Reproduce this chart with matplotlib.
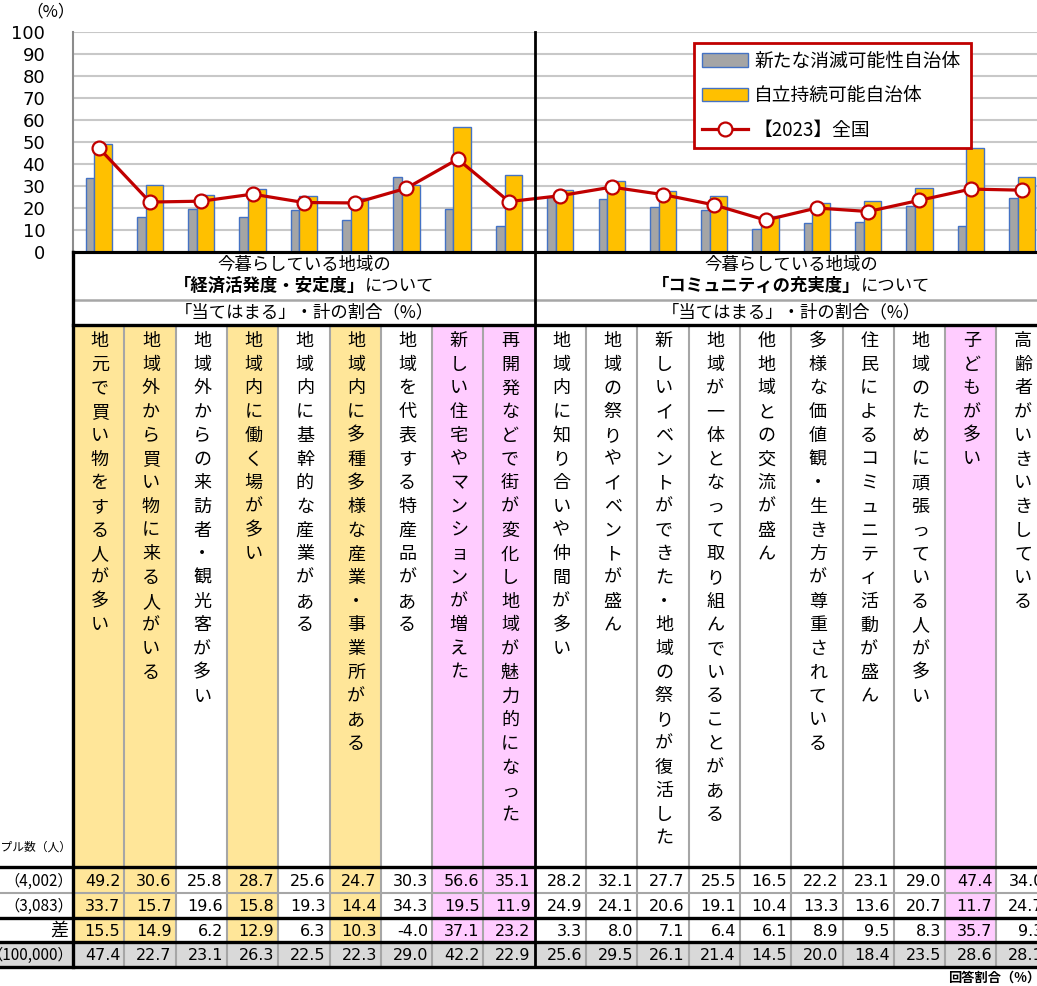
import numpy as np
import matplotlib
matplotlib.use("Agg")
import matplotlib.pyplot as plt
from matplotlib.patches import Rectangle

plt.rcParams['font.family'] = ['Noto Sans CJK JP', 'DejaVu Sans']

# column items (vertical labels)
items = [
    "地元で買い物をする人が多い",
    "地域外から買い物に来る人がいる",
    "地域外からの来訪者・観光客が多い",
    "地域内に働く場が多い",
    "地域内に基幹的な産業がある",
    "地域内に多種多様な産業・事業所がある",
    "地域を代表する特産品がある",
    "新しい住宅やマンションが増えた",
    "再開発などで街が変化し地域が魅力的になった",
    "地域内に知り合いや仲間が多い",
    "地域の祭りやイベントが盛ん",
    "新しいイベントができた・地域の祭りが復活した",
    "地域が一体となって取り組んでいることがある",
    "他地域との交流が盛ん",
    "多様な価値観・生き方が尊重されている",
    "住民によるコミュニティ活動が盛ん",
    "地域のために頑張っている人が多い",
    "子どもが多い",
    "高齢者がいきいきしている",
]
jiritsu = [49.2, 30.6, 25.8, 28.7, 25.6, 24.7, 30.3, 56.6, 35.1,
           28.2, 32.1, 27.7, 25.5, 16.5, 22.2, 23.1, 29.0, 47.4, 34.0]
shometsu = [33.7, 15.7, 19.6, 15.8, 19.3, 14.4, 34.3, 19.5, 11.9,
            24.9, 24.1, 20.6, 19.1, 10.4, 13.3, 13.6, 20.7, 11.7, 24.7]
sa = [15.5, 14.9, 6.2, 12.9, 6.3, 10.3, -4.0, 37.1, 23.2,
      3.3, 8.0, 7.1, 6.4, 6.1, 8.9, 9.5, 8.3, 35.7, 9.3]
zenkoku = [47.4, 22.7, 23.1, 26.3, 22.5, 22.3, 29.0, 42.2, 22.9,
           25.6, 29.5, 26.1, 21.4, 14.5, 20.0, 18.4, 23.5, 28.6, 28.1]

row_labels = ["（4,002）", "（3,083）", "差", "（100,000）"]
legend_labels = ["新たな消滅可能性自治体", "自立持続可能自治体", "【2023】全国"]
group_head = "今暮らしている地域の"
group_bold = ["「経済活発度・安定度」", "「コミュニティの充実度」"]
group_tail = "について"
sub_head = "「当てはまる」・計の割合（%）"

orange_cols = [0, 1, 3, 5]
pink_cols = [7, 8, 17]

W, H = 1037, 986
fig = plt.figure(figsize=(W / 100, H / 100), dpi=100)
fig.patch.set_facecolor('white')

X0 = 73       # left edge of table / chart
CW = 51.3     # column width in px
n = len(items)
Y_TOP, Y_BOT = 32, 252

# ---- chart ----
ax = fig.add_axes([X0 / W, 1 - Y_BOT / H, n * CW / W, (Y_BOT - Y_TOP) / H])
x = np.arange(n)
b1 = ax.bar(x - 0.17, shometsu, width=0.17, color='#A5A5A5', edgecolor='#4472C4',
            lw=1, zorder=2, label=legend_labels[0])
b2 = ax.bar(x + 0.085, jiritsu, width=0.34, color='#FFC000', edgecolor='#4472C4',
            lw=1, zorder=2, label=legend_labels[1])
ln, = ax.plot(x, zenkoku, color='#C00000', lw=2.3, marker='o', ms=10,
              mfc='white', mec='#C00000', mew=1.6, zorder=4, label=legend_labels[2])
ax.set_xlim(-0.5, n - 0.5)
ax.set_ylim(0, 100)
ax.set_yticks(range(0, 101, 10))
ax.set_xticks([])
ax.yaxis.grid(True, color='#C8C8C8', lw=1.5)
ax.set_axisbelow(True)
for s in ['top', 'right']:
    ax.spines[s].set_visible(False)
ax.spines['left'].set_color('#8C8C8C')
ax.spines['left'].set_linewidth(1.5)
ax.spines['bottom'].set_color('black')
ax.spines['bottom'].set_linewidth(2.2)
ax.tick_params(axis='y', length=0, pad=20, labelsize=13)
for t in ax.get_yticklabels():
    t.set_fontfamily('DejaVu Sans')

leg = ax.legend(handles=[b1, b2, ln], labels=legend_labels,
                loc='upper left', mode='expand',
                bbox_to_anchor=(694 / W, 1 - 44 / H, 277 / W, 0.001),
                bbox_transform=fig.transFigure, borderaxespad=0,
                fontsize=13.5, handlelength=2.5, handletextpad=0.3,
                labelspacing=0.72, borderpad=0.4, fancybox=False,
                framealpha=1, edgecolor='#C00000')
leg.get_frame().set_linewidth(2)

# ---- table (pixel coordinates) ----
tab = fig.add_axes([0, 0, 1, 1], zorder=5)
tab.set_xlim(0, W)
tab.set_ylim(H, 0)
tab.axis('off')
tab.patch.set_visible(False)

Y_SUB = 300
Y_COL = 325
Y_R = [867, 893, 918, 942, 967]
XR = X0 + n * CW + 20

def col_left(i):
    return X0 + i * CW

# column backgrounds
for i in range(n):
    if i in orange_cols:
        c = '#FFE699'
    elif i in pink_cols:
        c = '#FFCCFF'
    else:
        continue
    tab.add_patch(Rectangle((col_left(i), Y_COL), CW, Y_R[3] - Y_COL,
                            color=c, lw=0, zorder=0))
tab.add_patch(Rectangle((0, Y_R[3]), XR, Y_R[4] - Y_R[3], color='#D9D9D9', lw=0, zorder=0))

# grid lines
for i in range(1, n):
    if i == 9:
        continue
    tab.plot([col_left(i)] * 2, [Y_COL, Y_R[4]], color='#A6A6A6', lw=1.5, zorder=1)
tab.plot([X0, XR], [Y_SUB, Y_SUB], color='#A6A6A6', lw=1.8, zorder=1)
tab.plot([0, XR], [Y_R[1], Y_R[1]], color='#A6A6A6', lw=1.5, zorder=1)
tab.plot([X0, XR], [Y_BOT, Y_BOT], color='black', lw=2.2, zorder=2)
tab.plot([X0, XR], [Y_COL, Y_COL], color='black', lw=2.4, zorder=2)
for yy in [Y_R[0], Y_R[2], Y_R[3], Y_R[4]]:
    tab.plot([0, XR], [yy, yy], color='black', lw=2.4, zorder=2)
tab.plot([X0, X0], [Y_BOT, Y_R[4]], color='black', lw=2.4, zorder=2)
tab.plot([col_left(9)] * 2, [Y_TOP, Y_R[4]], color='black', lw=2, zorder=2)

# group headers
r = fig.canvas.get_renderer()
for g, (c0, c1) in enumerate([(0, 9), (9, n)]):
    cx = (col_left(c0) + col_left(c1)) / 2
    tab.text(cx, 265, group_head, ha='center', va='center', fontsize=12.5)
    t1 = tab.text(0, 286, group_bold[g], ha='left', va='center', fontsize=12.5, fontweight='bold')
    t2 = tab.text(0, 286, group_tail, ha='left', va='center', fontsize=12.5)
    w1 = t1.get_window_extent(r).width
    w2 = t2.get_window_extent(r).width
    start = cx - (w1 + w2) / 2
    t1.set_x(start)
    t2.set_x(start + w1)
    tab.text(cx, 312, sub_head, ha='center', va='center', fontsize=12.5)

# vertical item labels
for i, lab in enumerate(items):
    cx = col_left(i) + CW / 2 + 1
    for j, ch in enumerate(lab):
        tab.text(cx, 341 + j * 23.7, ch, ha='center', va='center', fontsize=13)

# values
rows = [jiritsu, shometsu, sa, zenkoku]
for k, vals in enumerate(rows):
    yc = (Y_R[k] + Y_R[k + 1]) / 2 + 1
    for i, v in enumerate(vals):
        tab.text(col_left(i + 1) - 4, yc, f"{v:.1f}", ha='right', va='center',
                 fontsize=11.5, family='DejaVu Sans')
    if k == 2:
        tab.text(68, yc, row_labels[k], ha='right', va='center', fontsize=13)
    else:
        tab.text(73, yc, row_labels[k], ha='right', va='center', fontsize=11)

tab.text(71, 847, "サンプル数（人）", ha='right', va='center', fontsize=8.5)
tab.text(51, 12, "（%）", ha='center', va='center', fontsize=12)
tab.text(948, 978, "回答割合（%）", ha='left', va='center', fontsize=9.5, fontweight='bold')

fig.savefig("out.png", dpi=100)
